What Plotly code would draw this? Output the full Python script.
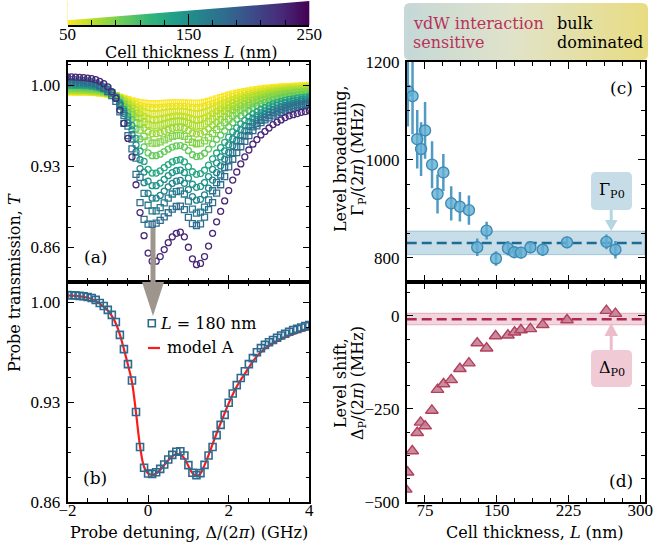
import plotly.graph_objects as go
from plotly.colors import sample_colorscale

W, H = 655, 550

# ---------------- data ----------------
DETUNING_GHZ = [-2.0, -1.9, -1.8, -1.7, -1.6, -1.5, -1.4, -1.3, -1.2, -1.1, -1.0, -0.9, -0.8, -0.7, -0.6,
                -0.5, -0.4, -0.3, -0.2, -0.1, 0.0, 0.1, 0.2, 0.3, 0.4, 0.5, 0.6, 0.7, 0.8, 0.9, 1.0, 1.1,
                1.2, 1.3, 1.4, 1.5, 1.6, 1.7, 1.8, 1.9, 2.0, 2.1, 2.2, 2.3, 2.4, 2.5, 2.6, 2.7, 2.8, 2.9,
                3.0, 3.1, 3.2, 3.3, 3.4, 3.5, 3.6, 3.7, 3.8, 3.9, 4.0]

T_L50 = [0.9942, 0.9942, 0.9941, 0.9941, 0.9940, 0.9939, 0.9937, 0.9935, 0.9932, 0.9928,
         0.9923, 0.9916, 0.9907, 0.9897, 0.9886, 0.9875, 0.9865, 0.9856, 0.9849, 0.9844,
         0.9841, 0.9839, 0.9839, 0.9840, 0.9842, 0.9844, 0.9846, 0.9847, 0.9847, 0.9846,
         0.9844, 0.9842, 0.9842, 0.9845, 0.9851, 0.9860, 0.9870, 0.9881, 0.9892, 0.9903,
         0.9913, 0.9922, 0.9930, 0.9938, 0.9945, 0.9951, 0.9957, 0.9962, 0.9967, 0.9971,
         0.9975, 0.9978, 0.9981, 0.9984, 0.9986, 0.9988, 0.9990, 0.9992, 0.9994, 0.9996, 0.9998]
T_L56 = [0.9945, 0.9945, 0.9944, 0.9944, 0.9943, 0.9942, 0.9940, 0.9938, 0.9935, 0.9930,
         0.9925, 0.9917, 0.9906, 0.9894, 0.9881, 0.9867, 0.9853, 0.9838, 0.9825, 0.9815,
         0.9809, 0.9805, 0.9805, 0.9807, 0.9810, 0.9814, 0.9817, 0.9819, 0.9819, 0.9817,
         0.9813, 0.9808, 0.9807, 0.9810, 0.9818, 0.9829, 0.9841, 0.9854, 0.9867, 0.9880,
         0.9892, 0.9903, 0.9913, 0.9922, 0.9931, 0.9938, 0.9945, 0.9951, 0.9957, 0.9962,
         0.9966, 0.9970, 0.9973, 0.9977, 0.9979, 0.9982, 0.9984, 0.9986, 0.9988, 0.9990, 0.9993]
T_L62 = [0.9951, 0.9950, 0.9949, 0.9949, 0.9948, 0.9947, 0.9945, 0.9942, 0.9939, 0.9933,
         0.9927, 0.9918, 0.9906, 0.9890, 0.9872, 0.9853, 0.9834, 0.9810, 0.9787, 0.9770,
         0.9757, 0.9751, 0.9751, 0.9754, 0.9760, 0.9766, 0.9771, 0.9774, 0.9774, 0.9771,
         0.9763, 0.9755, 0.9751, 0.9755, 0.9764, 0.9779, 0.9795, 0.9812, 0.9828, 0.9844,
         0.9860, 0.9874, 0.9886, 0.9898, 0.9908, 0.9918, 0.9927, 0.9934, 0.9941, 0.9947,
         0.9953, 0.9957, 0.9961, 0.9966, 0.9969, 0.9972, 0.9974, 0.9977, 0.9979, 0.9981, 0.9984]
T_L68 = [0.9955, 0.9955, 0.9954, 0.9954, 0.9953, 0.9951, 0.9949, 0.9946, 0.9942, 0.9937,
         0.9929, 0.9919, 0.9905, 0.9886, 0.9864, 0.9842, 0.9817, 0.9784, 0.9754, 0.9730,
         0.9712, 0.9703, 0.9703, 0.9708, 0.9716, 0.9724, 0.9730, 0.9734, 0.9735, 0.9730,
         0.9720, 0.9708, 0.9703, 0.9707, 0.9718, 0.9735, 0.9755, 0.9775, 0.9794, 0.9813,
         0.9831, 0.9848, 0.9862, 0.9876, 0.9889, 0.9900, 0.9910, 0.9919, 0.9927, 0.9934,
         0.9941, 0.9946, 0.9951, 0.9956, 0.9959, 0.9963, 0.9966, 0.9968, 0.9971, 0.9974, 0.9976]
T_L74 = [0.9960, 0.9960, 0.9959, 0.9959, 0.9958, 0.9956, 0.9954, 0.9951, 0.9946, 0.9940,
         0.9932, 0.9920, 0.9904, 0.9881, 0.9856, 0.9828, 0.9797, 0.9756, 0.9716, 0.9684,
         0.9660, 0.9649, 0.9649, 0.9655, 0.9665, 0.9675, 0.9684, 0.9689, 0.9691, 0.9684,
         0.9670, 0.9654, 0.9647, 0.9651, 0.9665, 0.9685, 0.9709, 0.9733, 0.9754, 0.9777,
         0.9798, 0.9818, 0.9835, 0.9852, 0.9866, 0.9880, 0.9892, 0.9902, 0.9911, 0.9919,
         0.9927, 0.9934, 0.9939, 0.9944, 0.9949, 0.9953, 0.9956, 0.9959, 0.9962, 0.9965, 0.9968]
T_L80 = [0.9967, 0.9967, 0.9966, 0.9965, 0.9964, 0.9962, 0.9960, 0.9956, 0.9951, 0.9944,
         0.9935, 0.9922, 0.9903, 0.9876, 0.9845, 0.9811, 0.9773, 0.9720, 0.9669, 0.9627,
         0.9596, 0.9581, 0.9581, 0.9589, 0.9602, 0.9615, 0.9626, 0.9633, 0.9635, 0.9626,
         0.9608, 0.9587, 0.9578, 0.9582, 0.9598, 0.9623, 0.9652, 0.9679, 0.9705, 0.9731,
         0.9757, 0.9781, 0.9801, 0.9821, 0.9838, 0.9854, 0.9868, 0.9880, 0.9892, 0.9901,
         0.9909, 0.9918, 0.9924, 0.9930, 0.9935, 0.9940, 0.9943, 0.9947, 0.9950, 0.9953, 0.9957]
T_L88 = [0.9974, 0.9974, 0.9973, 0.9973, 0.9971, 0.9970, 0.9967, 0.9963, 0.9957, 0.9949,
         0.9939, 0.9923, 0.9902, 0.9869, 0.9832, 0.9791, 0.9744, 0.9677, 0.9612, 0.9558,
         0.9518, 0.9499, 0.9499, 0.9510, 0.9527, 0.9543, 0.9557, 0.9565, 0.9568, 0.9557,
         0.9533, 0.9507, 0.9494, 0.9499, 0.9518, 0.9548, 0.9583, 0.9616, 0.9647, 0.9677,
         0.9707, 0.9737, 0.9760, 0.9784, 0.9804, 0.9823, 0.9840, 0.9854, 0.9868, 0.9878,
         0.9889, 0.9899, 0.9906, 0.9913, 0.9920, 0.9925, 0.9929, 0.9933, 0.9937, 0.9940, 0.9944]
T_L98 = [0.9985, 0.9985, 0.9984, 0.9983, 0.9981, 0.9979, 0.9976, 0.9972, 0.9965, 0.9956,
         0.9944, 0.9926, 0.9900, 0.9860, 0.9815, 0.9764, 0.9705, 0.9620, 0.9536, 0.9467,
         0.9415, 0.9391, 0.9391, 0.9404, 0.9426, 0.9447, 0.9465, 0.9475, 0.9478, 0.9465,
         0.9434, 0.9399, 0.9383, 0.9388, 0.9412, 0.9448, 0.9491, 0.9531, 0.9568, 0.9605,
         0.9641, 0.9677, 0.9706, 0.9734, 0.9759, 0.9782, 0.9803, 0.9819, 0.9836, 0.9849,
         0.9861, 0.9873, 0.9882, 0.9890, 0.9898, 0.9905, 0.9909, 0.9914, 0.9918, 0.9922, 0.9926]
T_L130 = [0.9999, 0.9999, 0.9998, 0.9997, 0.9995, 0.9993, 0.9989, 0.9984, 0.9976, 0.9965,
          0.9951, 0.9929, 0.9897, 0.9848, 0.9791, 0.9728, 0.9652, 0.9541, 0.9431, 0.9341,
          0.9273, 0.9241, 0.9241, 0.9259, 0.9287, 0.9314, 0.9337, 0.9351, 0.9356, 0.9337,
          0.9297, 0.9252, 0.9230, 0.9236, 0.9265, 0.9310, 0.9364, 0.9414, 0.9460, 0.9506,
          0.9551, 0.9596, 0.9631, 0.9666, 0.9696, 0.9726, 0.9752, 0.9772, 0.9792, 0.9808,
          0.9823, 0.9838, 0.9849, 0.9859, 0.9869, 0.9877, 0.9882, 0.9888, 0.9893, 0.9897, 0.9902]
T_L145 = [1.0010, 1.0009, 1.0008, 1.0007, 1.0005, 1.0002, 0.9999, 0.9993, 0.9985, 0.9972,
          0.9956, 0.9931, 0.9896, 0.9839, 0.9774, 0.9701, 0.9613, 0.9484, 0.9356, 0.9249,
          0.9170, 0.9132, 0.9132, 0.9154, 0.9186, 0.9218, 0.9245, 0.9261, 0.9266, 0.9245,
          0.9197, 0.9144, 0.9118, 0.9125, 0.9159, 0.9210, 0.9272, 0.9329, 0.9381, 0.9433,
          0.9485, 0.9536, 0.9576, 0.9617, 0.9651, 0.9685, 0.9714, 0.9737, 0.9761, 0.9778,
          0.9796, 0.9813, 0.9825, 0.9836, 0.9848, 0.9856, 0.9863, 0.9869, 0.9875, 0.9880, 0.9885]
T_L158 = [1.0020, 1.0019, 1.0018, 1.0017, 1.0015, 1.0012, 1.0008, 1.0002, 0.9993, 0.9979,
          0.9961, 0.9933, 0.9894, 0.9830, 0.9756, 0.9674, 0.9574, 0.9426, 0.9280, 0.9158,
          0.9066, 0.9024, 0.9024, 0.9048, 0.9085, 0.9122, 0.9152, 0.9171, 0.9177, 0.9152,
          0.9098, 0.9037, 0.9007, 0.9014, 0.9052, 0.9110, 0.9180, 0.9244, 0.9303, 0.9361,
          0.9419, 0.9477, 0.9522, 0.9567, 0.9606, 0.9644, 0.9677, 0.9703, 0.9729, 0.9748,
          0.9768, 0.9787, 0.9800, 0.9814, 0.9826, 0.9836, 0.9843, 0.9850, 0.9857, 0.9862, 0.9867]
T_L168 = [1.0030, 1.0030, 1.0029, 1.0027, 1.0025, 1.0022, 1.0018, 1.0011, 1.0001, 0.9986,
          0.9966, 0.9936, 0.9892, 0.9821, 0.9739, 0.9647, 0.9535, 0.9369, 0.9204, 0.9066,
          0.8963, 0.8915, 0.8915, 0.8942, 0.8984, 0.9025, 0.9060, 0.9081, 0.9087, 0.9060,
          0.8998, 0.8929, 0.8895, 0.8903, 0.8946, 0.9010, 0.9088, 0.9159, 0.9224, 0.9289,
          0.9353, 0.9417, 0.9468, 0.9518, 0.9561, 0.9604, 0.9639, 0.9668, 0.9697, 0.9719,
          0.9740, 0.9762, 0.9776, 0.9791, 0.9805, 0.9816, 0.9823, 0.9831, 0.9838, 0.9844, 0.9850]
T_L180 = [1.0048, 1.0047, 1.0045, 1.0043, 1.0040, 1.0035, 1.0028, 1.0015, 0.9993, 0.9972,
          0.9945, 0.9910, 0.9860, 0.9770, 0.9670, 0.9565, 0.9450, 0.9230, 0.8985, 0.8840,
          0.8800, 0.8797, 0.8808, 0.8832, 0.8862, 0.8898, 0.8930, 0.8952, 0.8955, 0.8925,
          0.8858, 0.8805, 0.8788, 0.8802, 0.8860, 0.8925, 0.8985, 0.9068, 0.9140, 0.9210,
          0.9295, 0.9360, 0.9418, 0.9468, 0.9515, 0.9565, 0.9607, 0.9648, 0.9677, 0.9700,
          0.9718, 0.9734, 0.9750, 0.9765, 0.9778, 0.9792, 0.9804, 0.9812, 0.9822, 0.9831, 0.9839]
T_L228 = [1.0072, 1.0071, 1.0070, 1.0068, 1.0065, 1.0061, 1.0056, 1.0047, 1.0033, 1.0013,
          0.9986, 0.9945, 0.9885, 0.9785, 0.9670, 0.9540, 0.9380, 0.9140, 0.8900, 0.8700,
          0.8550, 0.8480, 0.8480, 0.8520, 0.8580, 0.8640, 0.8690, 0.8720, 0.8730, 0.8690,
          0.8600, 0.8500, 0.8450, 0.8460, 0.8520, 0.8610, 0.8720, 0.8820, 0.8910, 0.9000,
          0.9090, 0.9180, 0.9250, 0.9320, 0.9380, 0.9440, 0.9490, 0.9530, 0.9570, 0.9600,
          0.9630, 0.9660, 0.9680, 0.9700, 0.9720, 0.9735, 0.9745, 0.9755, 0.9765, 0.9772, 0.9780]

MODEL_A_L180 = [1.0046, 1.0045, 1.0043, 1.0040, 1.0036, 1.0030, 1.0021, 1.0008, 0.9990, 0.9966,
                0.9940, 0.9903, 0.9850, 0.9772, 0.9670, 0.9560, 0.9440, 0.9225, 0.8990, 0.8845,
                0.8800, 0.8790, 0.8800, 0.8825, 0.8858, 0.8892, 0.8920, 0.8935, 0.8932, 0.8905,
                0.8852, 0.8803, 0.8782, 0.8800, 0.8858, 0.8928, 0.9005, 0.9080, 0.9152, 0.9222,
                0.9290, 0.9352, 0.9408, 0.9455, 0.9497, 0.9542, 0.9584, 0.9620, 0.9650, 0.9674,
                0.9694, 0.9711, 0.9726, 0.9740, 0.9752, 0.9764, 0.9775, 0.9785, 0.9794, 0.9802, 0.9809]

THICKNESS_A = [50, 56, 62, 68, 74, 80, 88, 98, 130, 145, 158, 168, 180, 228]
CURVES_A = [T_L50, T_L56, T_L62, T_L68, T_L74, T_L80, T_L88, T_L98, T_L130, T_L145,
            T_L158, T_L168, T_L180, T_L228]
SYMBOLS_A = ["square-open", "circle-open", "square-open", "circle-open", "square-open", "circle-open",
             "square-open", "circle-open", "circle-open", "circle-open", "circle-open", "square-open",
             "square-open", "circle-open"]

L_C = [57.2, 62.1, 67.0, 71.0, 75.2, 82.5, 88.2, 94.3, 102.5, 111.6, 121.0, 129.7, 139.5, 149.3,
       161.8, 168.4, 175.4, 185.2, 198.1, 223.5, 264.7, 274.1]
GAMMA_P = [1141, 1130, 1042, 1022, 1060, 990, 930, 974, 911, 904, 897, 821, 855, 798, 819, 811,
           810, 821, 816, 831, 832, 816]
GAMMA_ERR = [73, 78, 60, 55, 58, 48, 40, 38, 35, 30, 30, 18, 18, 15, 15, 12, 12, 12, 12, 12, 15, 18]
GAMMA_P0, GAMMA_P0_LO, GAMMA_P0_HI = 830, 806, 854

L_D = [55.0, 56.9, 61.8, 67.0, 70.5, 75.3, 82.3, 88.2, 94.5, 102.5, 111.6, 121.0, 129.7, 139.5,
       148.9, 161.8, 168.7, 175.4, 185.2, 198.1, 223.5, 264.7, 274.1]
DELTA_P = [-466, -420, -363, -314, -286, -296, -254, -198, -183, -172, -142, -127, -73, -87, -54,
           -52, -44, -38, -35, -24, -11, 14, 6]
DELTA_P0, DELTA_P0_LO, DELTA_P0_HI = -9, -24, 7

CBAR_L = list(range(50, 251, 2))
HEADER_GRAD = list(range(0, 101))

# ---------------- helpers ----------------
def px(x):
    return x / W


def py(y):
    return 1 - y / H


def rrect(x0, y0, x1, y1, r):
    X, Y = px, py
    return (f"M {X(x0 + r)},{Y(y0)} L {X(x1 - r)},{Y(y0)} Q {X(x1)},{Y(y0)} {X(x1)},{Y(y0 + r)} "
            f"L {X(x1)},{Y(y1 - r)} Q {X(x1)},{Y(y1)} {X(x1 - r)},{Y(y1)} "
            f"L {X(x0 + r)},{Y(y1)} Q {X(x0)},{Y(y1)} {X(x0)},{Y(y1 - r)} "
            f"L {X(x0)},{Y(y0 + r)} Q {X(x0)},{Y(y0)} {X(x0 + r)},{Y(y0)} Z")


def corner_masks(x0, y0, x1, y1, r):
    X, Y = px, py
    out = []
    for cx, cy, sx, sy in [(x0, y0, 1, 1), (x1, y0, -1, 1), (x0, y1, 1, -1), (x1, y1, -1, -1)]:
        out.append(f"M {X(cx)},{Y(cy)} L {X(cx + sx * r)},{Y(cy)} Q {X(cx)},{Y(cy)} "
                   f"{X(cx)},{Y(cy + sy * r)} Z")
    return out


def color_of(L):
    return sample_colorscale("Viridis", [1 - (L - 50) / 200])[0]


SERIF = "DejaVu Serif"
TICKFONT = dict(family="Liberation Serif", size=17, color="black")

fig = go.Figure()

# (a) spectra
for L, T, sym in zip(THICKNESS_A, CURVES_A, SYMBOLS_A):
    fig.add_trace(go.Scatter(x=DETUNING_GHZ, y=T, mode="markers", xaxis="x", yaxis="y",
                             marker=dict(symbol=sym, size=6, color=color_of(L), line=dict(width=1.3)),
                             hoverinfo="skip"))

# (b) L = 180 nm + model A
fig.add_trace(go.Scatter(x=DETUNING_GHZ, y=MODEL_A_L180, mode="lines", xaxis="x2", yaxis="y2",
                         line=dict(color="#ff1a1a", width=2.2, shape="spline"), hoverinfo="skip"))
fig.add_trace(go.Scatter(x=DETUNING_GHZ, y=T_L180, mode="markers", xaxis="x2", yaxis="y2",
                         marker=dict(symbol="square-open", size=7, color="#2e6a8e", line=dict(width=1.6)),
                         hoverinfo="skip"))

# (c) broadening
fig.add_trace(go.Scatter(x=L_C, y=GAMMA_P, mode="markers", xaxis="x3", yaxis="y3",
                         error_y=dict(type="data", array=GAMMA_ERR, color="#4f9bc4", thickness=2.5, width=0),
                         marker=dict(symbol="circle", size=11, color="rgba(100,176,212,0.8)",
                                     line=dict(color="#3d8ab4", width=1.4)),
                         hoverinfo="skip"))

# (d) shift
fig.add_trace(go.Scatter(x=L_D, y=DELTA_P, mode="markers", xaxis="x4", yaxis="y4",
                         marker=dict(symbol="triangle-up", size=11, color="rgba(196,128,146,0.9)",
                                     line=dict(color="#b2405f", width=1.4)),
                         hoverinfo="skip"))

# wedge colour bar
fig.add_trace(go.Heatmap(x=CBAR_L, y=[0, 1], z=[CBAR_L, CBAR_L], xaxis="x5", yaxis="y5",
                         colorscale="Viridis", reversescale=True, zmin=50, zmax=250,
                         showscale=False, hoverinfo="skip"))
fig.add_trace(go.Scatter(x=[50, 250, 250, 50, 50], y=[0.2, 1.0, 1.3, 1.3, 0.2], xaxis="x5", yaxis="y5",
                         mode="lines", fill="toself", fillcolor="white", line=dict(width=0),
                         hoverinfo="skip"))

# header gradient
fig.add_trace(go.Heatmap(x=HEADER_GRAD, y=[0, 1], z=[HEADER_GRAD, HEADER_GRAD], xaxis="x6", yaxis="y6",
                         colorscale=[[0, "#c5d8d7"], [0.45, "#e1e3c9"], [1, "#e8dc82"]],
                         showscale=False, hoverinfo="skip"))

# ---------------- axes ----------------
LDOM = [px(67.5), px(309.3)]
RDOM = [px(406.7), px(645.0)]
TOPDOM = [py(282), py(62)]
BOTDOM = [py(502), py(282)]

common = dict(showline=True, linecolor="black", linewidth=1.5, mirror="allticks", ticks="inside",
              ticklen=7, tickwidth=1.3, tickcolor="black", showgrid=False, zeroline=False,
              tickfont=TICKFONT, automargin=False)


def minor(dtick, tick0):
    return dict(ticks="inside", ticklen=4, tickwidth=1.1, tickcolor="black", dtick=dtick, tick0=tick0,
                showgrid=False)


fig.update_layout(
    xaxis=dict(common, domain=LDOM, anchor="y", range=[-2, 4], tick0=-2, dtick=2,
               minor=minor(0.5, -2), showticklabels=False),
    yaxis=dict(common, domain=TOPDOM, anchor="x", range=[0.83, 1.02], tick0=0.86, dtick=0.07,
               tickformat=".2f", minor=minor(0.0175, 0.86), ticklabelstandoff=2),
    xaxis2=dict(common, domain=LDOM, anchor="y2", range=[-2, 4], tick0=-2, dtick=2,
                minor=minor(0.5, -2), ticklabelstandoff=-8),
    yaxis2=dict(common, domain=BOTDOM, anchor="x2", range=[0.86, 1.014], tick0=0.86, dtick=0.07,
                tickformat=".2f", minor=minor(0.0175, 0.86), ticklabelstandoff=2),
    xaxis3=dict(common, domain=RDOM, anchor="y3", range=[56, 305], tick0=75, dtick=75,
                minor=minor(18.75, 75), showticklabels=False),
    yaxis3=dict(common, domain=TOPDOM, anchor="x3", range=[750, 1200], tick0=800, dtick=200,
                minor=minor(50, 800), ticklabelstandoff=2),
    xaxis4=dict(common, domain=RDOM, anchor="y4", range=[56, 305], tick0=75, dtick=75,
                minor=minor(18.75, 75), ticklabelstandoff=-8),
    yaxis4=dict(common, domain=BOTDOM, anchor="x4", range=[-500, 91], tick0=-500, dtick=250,
                minor=minor(62.5, -500), ticklabelstandoff=2),
    xaxis5=dict(domain=LDOM, anchor="y5", range=[50, 250], showline=True, linecolor="black",
                linewidth=1.5, ticks="inside", ticklen=11, tickwidth=1.3, tickcolor="black",
                tick0=50, dtick=100, minor=dict(ticks="inside", ticklen=5, tickwidth=1.1,
                                                 tickcolor="black", dtick=20, tick0=50),
                showgrid=False, zeroline=False, tickfont=TICKFONT, automargin=False,
                ticklabelstandoff=-7),
    yaxis5=dict(domain=[py(25), py(1)], anchor="x5", range=[0, 1], visible=False, automargin=False),
    xaxis6=dict(domain=[px(404), px(648)], anchor="y6", range=[0, 100], visible=False, automargin=False),
    yaxis6=dict(domain=[py(60), py(3)], anchor="x6", range=[0, 1], visible=False, automargin=False),
)

# ---------------- shapes ----------------
shapes = []
# rounded corners of the header box
for p in corner_masks(404, 3, 648, 60, 6):
    shapes.append(dict(type="path", xref="paper", yref="paper", path=p, fillcolor="white",
                       line=dict(width=0), layer="above"))
# grey arrow from (a) into (b)
shapes.append(dict(type="rect", xref="paper", yref="paper", x0=px(150.5), x1=px(155.5), y0=py(290),
                   y1=py(228), fillcolor="#9e958d", line=dict(width=0), layer="above"))
shapes.append(dict(type="path", xref="paper", yref="paper",
                   path=f"M {px(142)},{py(282)} L {px(164)},{py(282)} L {px(153)},{py(316)} Z",
                   fillcolor="#9e958d", line=dict(width=0), layer="above"))
# bands and dashed reference lines
shapes.append(dict(type="rect", xref="x3 domain", yref="y3", x0=0, x1=1, y0=GAMMA_P0_LO, y1=GAMMA_P0_HI,
                   fillcolor="rgba(130,180,205,0.45)", line=dict(color="rgba(100,160,195,0.55)", width=1),
                   layer="below"))
shapes.append(dict(type="line", xref="x3 domain", yref="y3", x0=0, x1=1, y0=GAMMA_P0, y1=GAMMA_P0,
                   line=dict(color="#1d6a94", width=2.5, dash="10px,5px"), layer="below"))
shapes.append(dict(type="rect", xref="x4 domain", yref="y4", x0=0, x1=1, y0=DELTA_P0_LO, y1=DELTA_P0_HI,
                   fillcolor="rgba(222,150,172,0.4)", line=dict(color="rgba(205,120,150,0.5)", width=1),
                   layer="below"))
shapes.append(dict(type="line", xref="x4 domain", yref="y4", x0=0, x1=1, y0=DELTA_P0, y1=DELTA_P0,
                   line=dict(color="#b02a50", width=2.5, dash="10px,5px"), layer="below"))
# Gamma_P0 call-out
shapes.append(dict(type="path", xref="paper", yref="paper", path=rrect(591, 172, 632, 210, 5),
                   fillcolor="#c6dde7", line=dict(width=0), layer="above"))
shapes.append(dict(type="rect", xref="paper", yref="paper", x0=px(609.7), x1=px(612.7), y0=py(221),
                   y1=py(210), fillcolor="#b6d5e2", line=dict(width=0), layer="above"))
shapes.append(dict(type="path", xref="paper", yref="paper",
                   path=f"M {px(605)},{py(220)} L {px(617.5)},{py(220)} L {px(611.2)},{py(231)} Z",
                   fillcolor="#b6d5e2", line=dict(width=0), layer="above"))
# Delta_P0 call-out
shapes.append(dict(type="path", xref="paper", yref="paper", path=rrect(591, 350, 632, 387, 5),
                   fillcolor="#f0cbd6", line=dict(width=0), layer="above"))
shapes.append(dict(type="rect", xref="paper", yref="paper", x0=px(609.7), x1=px(612.7), y0=py(350),
                   y1=py(335), fillcolor="#ecbccb", line=dict(width=0), layer="above"))
shapes.append(dict(type="path", xref="paper", yref="paper",
                   path=f"M {px(604.5)},{py(336)} L {px(618)},{py(336)} L {px(611.2)},{py(323)} Z",
                   fillcolor="#ecbccb", line=dict(width=0), layer="above"))
# legend glyphs in (b)
shapes.append(dict(type="rect", xref="paper", yref="paper", x0=px(148.3), x1=px(155.3), y0=py(326.8),
                   y1=py(319.8), line=dict(color="#2e6a8e", width=1.6), fillcolor="rgba(0,0,0,0)",
                   layer="above"))
shapes.append(dict(type="line", xref="paper", yref="paper", x0=px(148), x1=px(160), y0=py(348),
                   y1=py(348), line=dict(color="#ff1a1a", width=2.2), layer="above"))
fig.update_layout(shapes=shapes)

# ---------------- text ----------------
def ann(text, x, y, size=16, color="black", xanchor="center", angle=0, family=SERIF):
    return dict(text=text, x=px(x), y=py(y), xref="paper", yref="paper", showarrow=False,
                xanchor=xanchor, yanchor="middle", textangle=angle,
                font=dict(family=family, size=size, color=color))


anns = [
    ann("Cell thickness <i>L</i> (nm)", 191, 53),
    ann("vdW interaction", 411, 23, color="#b8325a", xanchor="left"),
    ann("sensitive", 411, 43, color="#b8325a", xanchor="left"),
    ann("bulk", 555, 23, xanchor="left"),
    ann("dominated", 555, 43, xanchor="left"),
    ann("Probe transmission, <i>T</i>", 14, 283, angle=-90),
    ann("Probe detuning, Δ/(2<i>π</i>) (GHz)", 189, 532),
    ann("Cell thickness, <i>L</i> (nm)", 535, 532),
    ann("Level broadening,", 340, 159, angle=-90),
    ann("Γ<sub>P</sub>/(2<i>π</i>) (MHz)", 358, 159, angle=-90),
    ann("Level shift,", 340, 383, angle=-90),
    ann("Δ<sub>P</sub>/(2<i>π</i>) (MHz)", 358, 383, angle=-90),
    ann("(a)", 95, 257, size=17),
    ann("(b)", 95, 478, size=17),
    ann("(c)", 621, 88, size=17),
    ann("(d)", 621, 481, size=17),
    ann("<i>L</i> = 180 nm", 158, 323, xanchor="left"),
    ann("model A", 165, 347, xanchor="left"),
    ann("Γ<sub>P0</sub>", 611.5, 190),
    ann("Δ<sub>P0</sub>", 611.5, 368),
]
fig.update_layout(annotations=anns)

fig.update_layout(width=W, height=H, margin=dict(l=0, r=0, t=0, b=0, pad=0, autoexpand=False),
                  showlegend=False, paper_bgcolor="white", plot_bgcolor="white")

fig.write_html("out.html")
